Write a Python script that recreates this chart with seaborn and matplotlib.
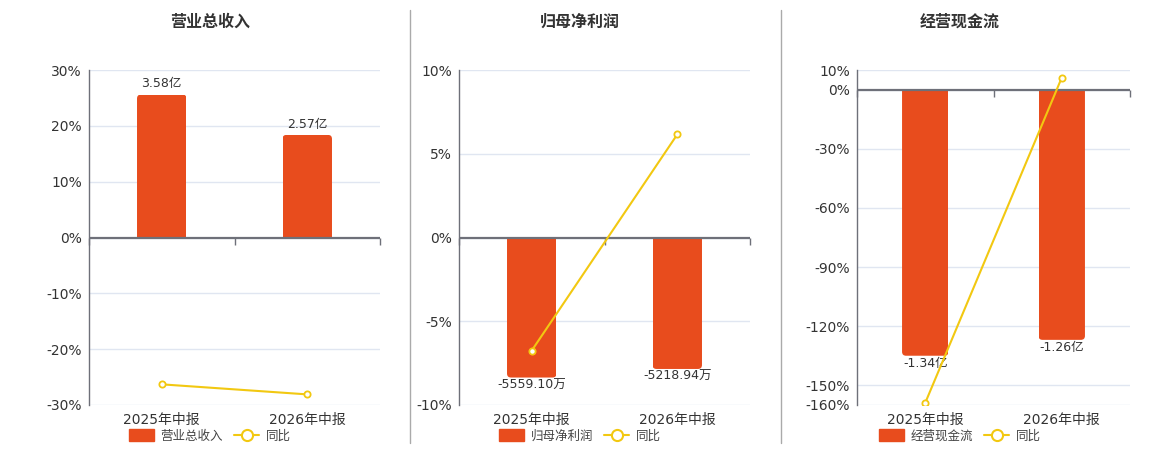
import numpy as np
import matplotlib
matplotlib.use("Agg")
import matplotlib.pyplot as plt
from matplotlib.patches import Patch, FancyBboxPatch
from matplotlib.lines import Line2D
import seaborn as sns

# ---- data ----
periods = ["2025年中报", "2026年中报"]
titles = ["营业总收入", "归母净利润", "经营现金流"]

revenue = [3.58, 2.57]                 # 亿
net_profit = [-5559.10, -5218.94]      # 万
op_cashflow = [-1.34, -1.26]           # 亿

revenue_labels = ["3.58亿", "2.57亿"]
net_profit_labels = ["-5559.10万", "-5218.94万"]
op_cashflow_labels = ["-1.34亿", "-1.26亿"]

revenue_yoy = [-26.3, -28.1]
net_profit_yoy = [-6.75, 6.15]
op_cashflow_yoy = [-158.9, 6.1]

revenue_ticks = [-30, -20, -10, 0, 10, 20, 30]
net_profit_ticks = [-10, -5, 0, 5, 10]
op_cashflow_ticks = [-160, -150, -120, -90, -60, -30, 0, 10]

# ---- style ----
BAR = "#E84C1D"
LINE = "#F2C811"
GRID = "#E0E6F1"
AXIS = "#6E7079"
TEXT = "#333333"
W, H = 1160, 450
TOP, BOTTOM = 70, 405

sns.set_theme(style="white")
plt.rcParams["font.family"] = ["DejaVu Sans", "Noto Sans CJK SC"]

panels = [
    (revenue, revenue_labels, revenue_yoy, revenue_ticks, 3.58 / 25.6, (89, 380), 210),
    (net_profit, net_profit_labels, net_profit_yoy, net_profit_ticks, 5559.10 / 8.36, (459, 750), 580),
    (op_cashflow, op_cashflow_labels, op_cashflow_yoy, op_cashflow_ticks, 1.34 / 135, (857, 1130), 960),
]


def round_bars(ax, radius_px, xpx, ypx):
    """swap seaborn's rectangles for ones with rounded outer corners"""
    r = radius_px * xpx
    for bar in list(ax.patches):
        x, y, w, h = bar.get_x(), bar.get_y(), bar.get_width(), bar.get_height()
        y0, y1 = min(y, y + h), max(y, y + h)
        ext = radius_px * ypx
        if h >= 0:
            y0 -= ext
        else:
            y1 += ext
        fb = FancyBboxPatch((x, y0), w, y1 - y0,
                            boxstyle=f"round,pad=0,rounding_size={r}",
                            mutation_aspect=ypx / xpx,
                            facecolor=BAR, edgecolor="none", zorder=2)
        ax.add_patch(fb)
        fb.set_clip_path(bar)
        bar.set_visible(False)


fig = plt.figure(figsize=(W / 100, H / 100), dpi=100)

for title, (vals, labels, yoy, ticks, scale, (l, r), cx) in zip(titles, panels):
    ax = fig.add_axes([l / W, (H - BOTTOM) / H, (r - l) / W, (BOTTOM - TOP) / H])
    sns.barplot(x=periods, y=vals, color=BAR, saturation=1, width=0.34, ax=ax, zorder=2)
    lo, hi = min(ticks), max(ticks)
    ax.set_ylim(lo * scale, hi * scale)
    ax.set_xlim(-0.5, 1.5)
    ax.set_yticks([t * scale for t in ticks])
    ax.set_yticklabels([f"{t}%" for t in ticks])
    ax.grid(axis="y", color=GRID, lw=1, zorder=0)
    ax.set_axisbelow(True)
    ax.tick_params(axis="y", length=0, pad=5, labelsize=10, labelcolor=TEXT)
    ax.tick_params(axis="x", length=0, pad=6, labelsize=10, labelcolor=TEXT)
    ax.set_xlabel("")
    ax.set_ylabel("")
    for s in ["top", "right", "bottom"]:
        ax.spines[s].set_visible(False)
    ax.spines["left"].set_color(AXIS)
    ax.spines["left"].set_linewidth(1)

    pad = 3 if vals[0] > 0 else 1
    ax.bar_label(ax.containers[0], labels=labels, padding=pad, fontsize=9, color=TEXT)

    xpx = 2.0 / (r - l)
    ypx = (hi - lo) * scale / (BOTTOM - TOP)
    round_bars(ax, 4, xpx, ypx)

    # zero axis line with category ticks
    ax.axhline(0, color=AXIS, lw=1.6, zorder=3)
    ax.plot([-0.5, 0.5, 1.5], [0, 0, 0], ls="none", marker=3, ms=5,
            mew=1, color=AXIS, clip_on=False, zorder=3)

    axl = ax.twinx()
    sns.lineplot(x=np.arange(len(periods)), y=yoy, ax=axl, color=LINE, lw=1.5,
                 marker="o", ms=4.5, mfc="white", mec=LINE, mew=1.3, zorder=4)
    axl.set_ylim(lo, hi)
    axl.set_xlim(-0.5, 1.5)
    axl.set_yticks([])
    axl.set_ylabel("")
    for s in axl.spines.values():
        s.set_visible(False)

    fig.text(cx / W, 1 - 22 / H, title, ha="center", va="center",
             fontsize=11.5, fontweight="bold", color=TEXT)

    handles = [Patch(facecolor=BAR, edgecolor=BAR),
               Line2D([], [], color=LINE, lw=1.5, marker="o", ms=8,
                      mfc="white", mec=LINE, mew=1.5)]
    fig.legend(handles, [title, "同比"], loc="center",
               bbox_to_anchor=(cx / W, 1 - 436 / H), ncol=2, frameon=False,
               fontsize=9, labelcolor="#444444", handlelength=2, handleheight=1.1,
               handletextpad=0.5, columnspacing=0.9, borderpad=0)

# panel dividers
for x in (410, 781):
    fig.add_artist(Line2D([x / W, x / W], [1 - 10 / H, 1 - 443 / H],
                          color="#AAAAAA", lw=1))

fig.savefig("out.png", dpi=100)
